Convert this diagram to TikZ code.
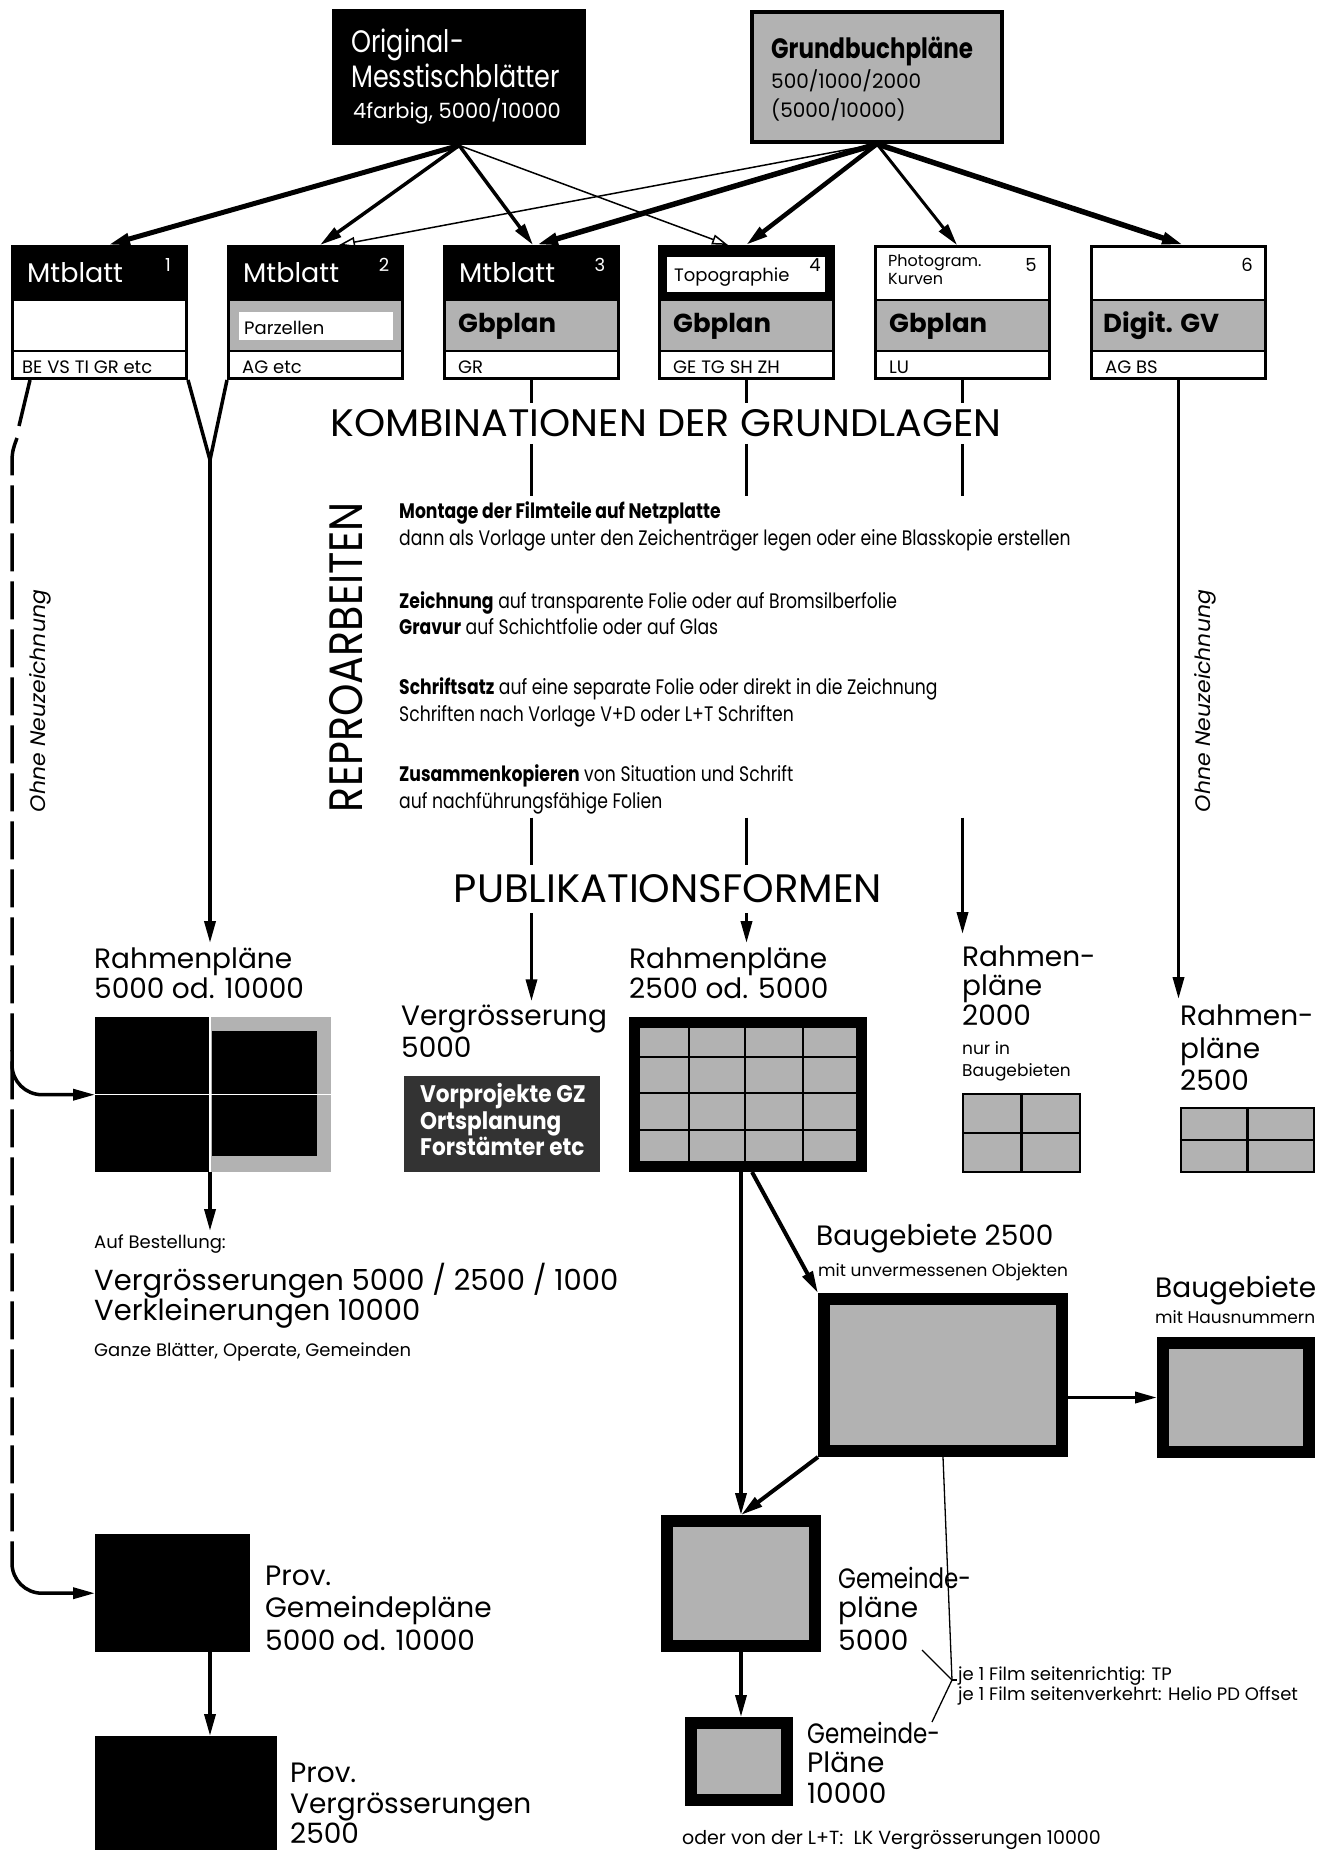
\documentclass[tikz,border=0pt]{standalone}
\usepackage{fontspec}
\usepackage{graphicx}
\setmainfont{Poppins}
\newfontfamily\labfont{Poppins}[FakeStretch=0.9]
\newfontfamily\condfont{Poppins}[FakeStretch=0.82]
\usetikzlibrary{arrows.meta,calc,positioning}
\colorlet{dotgray}{black!30}
\colorlet{darkdot}{black!80}

\begin{document}
\begin{tikzpicture}[
    x=1pt, y=-1pt,
    >={Triangle[length=22pt,width=11pt]},
    every node/.style={inner sep=0pt},
    lbl/.style={anchor=base west, font=\fontsize{28}{30}\selectfont},
    condlbl/.style={anchor=base west, font=\condfont\fontsize{28}{30}\selectfont},
    notetxt/.style={anchor=base west, font=\fontsize{17}{20}\selectfont},
    reptxt/.style={anchor=base west, font=\condfont\fontsize{21}{24}\selectfont},
    codetxt/.style={anchor=base west, font=\fontsize{18}{20}\selectfont},
    numtxt/.style={anchor=base, font=\fontsize{18}{20}\selectfont},
    boxtitle/.style={anchor=base west, font=\fontsize{27}{30}\selectfont},
    boxbold/.style={anchor=base west, font=\bfseries\fontsize{26}{30}\selectfont},
    headtxt/.style={anchor=base west, font=\condfont\fontsize{31}{34}\selectfont},
    rowbox/.style={draw, line width=3pt, minimum width=174pt, minimum height=132pt, anchor=north west},
    plate/.style={draw, fill=dotgray, line width=12pt},
    gridbox/.style={draw, fill=dotgray, line width=2.5pt},
    conn/.style={->, line width=3.5pt},
    openarr/.style={-{Triangle[open,length=16pt,width=10pt]}, line width=1.5pt},
    dashline/.style={line width=3.5pt, dash pattern=on 38pt off 10pt},
]
\useasboundingbox (0,0) rectangle (1325,1850);

\node[fill=black, minimum width=254pt, minimum height=136pt, anchor=north west] (orig) at (332,9) {};
\node[headtxt, white] (orig1) at (351,52) {Original-};
\node[headtxt, white] (orig2) at (351,87) {Messtischblätter};
\node[anchor=base west, white, font=\fontsize{21}{24}\selectfont] (orig3) at (353,118) {4farbig, 5000/10000};

\node[draw, fill=dotgray, line width=4pt, minimum width=250pt, minimum height=130pt, anchor=north west] (gb) at (750,10) {};
\node[headtxt, font=\condfont\bfseries\fontsize{28}{32}\selectfont] (gb1) at (771,58) {Grundbuchpläne};
\node[anchor=base west, font=\fontsize{20}{24}\selectfont] (gb2) at (771,88) {500/1000/2000};
\node[anchor=base west, font=\fontsize{20}{24}\selectfont] (gb3) at (771,117) {(5000/10000)};

\foreach \i/\x/\tf/\mf in {1/11/black/white, 2/227/black/dotgray, 3/443/black/dotgray, 4/658/black/dotgray, 5/874/white/dotgray, 6/1090/white/dotgray}{
  \fill[\tf] (\x,245) rectangle ++(177,55);
  \fill[\mf] (\x,300) rectangle ++(177,51);
  \draw[line width=2.5pt] (\x,300) -- ++(177,0) (\x,351) -- ++(177,0);
  \node[rowbox] (b\i) at (\x,245) {};
}
\fill[white] (239,312) rectangle (393,340);
\fill[white] (667,257) rectangle (825,292);
\foreach \i in {1,2,3}
  \node[boxtitle, white] (mt\i) at ($(b\i.north west)+(16,37)$) {Mtblatt};
\foreach \i/\nc in {1/white, 2/white, 3/white, 4/black, 5/black, 6/black}
  \node[numtxt, \nc] (n\i) at ($(b\i.north west)+(157,26)$) {\i};
\node[notetxt, font=\fontsize{18}{20}\selectfont] (parz) at (244,334) {Parzellen};
\node[notetxt, font=\fontsize{18}{20}\selectfont] (topo) at (674,281) {Topographie};
\node[notetxt, font=\fontsize{16}{18}\selectfont] (photo) at (888,266) {Photogram.};
\node[notetxt, font=\fontsize{16}{18}\selectfont] (kurv) at (888,284) {Kurven};
\foreach \i in {3,4,5}
  \node[boxbold] (gbp\i) at ($(b\i.north west)+(15,87)$) {Gbplan};
\node[boxbold] (digit) at ($(b6.north west)+(13,87)$) {Digit. GV};
\node[codetxt] (c1) at ($(b1.north west)+(11,128)$) {BE VS TI GR etc};
\node[codetxt] (c2) at ($(b2.north west)+(15,128)$) {AG etc};
\node[codetxt] (c3) at ($(b3.north west)+(15,128)$) {GR};
\node[codetxt] (c4) at ($(b4.north west)+(15,128)$) {GE TG SH ZH};
\node[codetxt] (c5) at ($(b5.north west)+(15,128)$) {LU};
\node[codetxt] (c6) at ($(b6.north west)+(15,128)$) {AG BS};

\draw[conn, line width=5pt] (orig.south) -- ($(b1.north west)+(97,0)$);
\draw[conn] (orig.south) -- ($(b2.north west)+(93,0)$);
\draw[conn] (orig.south) -- ($(b3.north west)+(90,0)$);
\draw[openarr] (orig.south) -- ($(b4.north west)+(70,0)$);
\draw[openarr] (gb.south) -- ($(b2.north west)+(112,0)$);
\draw[conn, line width=5.5pt] (gb.south) -- ($(b3.north west)+(93,0)$);
\draw[conn, line width=4.5pt] (gb.south) -- ($(b4.north west)+(88,0)$);
\draw[conn, line width=3pt] (gb.south) -- ($(b5.north west)+(83,0)$);
\draw[conn, line width=5.5pt] (gb.south) -- ($(b6.north west)+(94,0)$);

\node (kombi) at (666,423) {\resizebox{671pt}{27pt}{KOMBINATIONEN DER GRUNDLAGEN}};
\node[rotate=90] (repro) at (346,657) {\resizebox{310pt}{33pt}{REPROARBEITEN}};
\node (publi) at (668,889) {\resizebox{428pt}{28pt}{PUBLIKATIONSFORMEN}};
\node[rotate=90] (ohne1) at (40,701) {\resizebox{222pt}{16pt}{\itshape Ohne Neuzeichnung}};
\node[rotate=90] (ohne2) at (1205,701) {\resizebox{222pt}{16pt}{\itshape Ohne Neuzeichnung}};

\foreach \y/\t [count=\n] in {518/{\textbf{Montage der Filmteile auf Netzplatte}},
    545/{dann als Vorlage unter den Zeichenträger legen oder eine Blasskopie erstellen},
    608/{\textbf{Zeichnung} auf transparente Folie oder auf Bromsilberfolie},
    634/{\textbf{Gravur} auf Schichtfolie oder auf Glas},
    694/{\textbf{Schriftsatz} auf eine separate Folie oder direkt in die Zeichnung},
    721/{Schriften nach Vorlage V+D oder L+T Schriften},
    781/{\textbf{Zusammenkopieren} von Situation und Schrift},
    808/{auf nachführungsfähige Folien}}
  \node[reptxt] (rep\n) at (399,\y) {\t};

\foreach \i in {3,4,5}{
  \draw[line width=3pt] (b\i.south) -- ++(0,23);
  \draw[line width=3pt] (b\i.south |- kombi.south) ++(0,7) -- ++(0,52);
}
\foreach \i in {3,4}
  \draw[line width=3pt] (b\i.south |- publi.north) ++(0,-57) -- ++(0,47);

\node[lbl] (rpl1) at (94,968) {Rahmenpläne};
\node[lbl] (rpl2) at (94,998) {5000 od. 10000};
\node[lbl] (vgl1) at (401,1025) {Vergrösserung};
\node[lbl] (vgl2) at (401,1057) {5000};
\node[lbl] (rml1) at (629,968) {Rahmenpläne};
\node[lbl] (rml2) at (629,998) {2500 od. 5000};
\node[lbl] (r20l1) at (962,966) {Rahmen-};
\node[lbl] (r20l2) at (962,995) {pläne};
\node[lbl] (r20l3) at (962,1025) {2000};
\node[notetxt] (r20n1) at (962,1054) {nur in};
\node[notetxt] (r20n2) at (962,1076) {Baugebieten};
\node[lbl] (r25l1) at (1180,1025) {Rahmen-};
\node[lbl] (r25l2) at (1180,1058) {pläne};
\node[lbl] (r25l3) at (1180,1090) {2500};

\coordinate (vtip) at (210,460);
\draw[line width=3.5pt] (b1.south east) -- (vtip) -- (b2.south west);
\draw[conn, shorten >=4pt] (vtip) -- (vtip |- rpl1.north);
\draw[conn, shorten >=3pt] (b3.south |- publi.south) ++(0,10) -- (b3.south |- vgl1.north);
\draw[conn, shorten >=4pt] (b4.south |- publi.south) ++(0,10) -- (b4.south |- rml1.north);
\draw[conn, shorten >=11pt] (b5.south |- publi.north) ++(0,-57) -- (b5.south |- r20l1.north);
\draw[conn, shorten >=5pt] (b6.south) -- (b6.south |- r25l1.north);

\node[fill=black, minimum width=236pt, minimum height=155pt, anchor=north west] (rp5) at (95,1017) {};
\fill[dotgray] (210,1017) rectangle (331,1172);
\fill[black] (212,1031) rectangle (317,1156);
\draw[white, line width=1.5pt] (rp5.west) -- (rp5.east);
\draw[white, line width=1.5pt] (210,1017) -- (210,1172);

\node[fill=darkdot, minimum width=196pt, minimum height=96pt, anchor=north west] (vbox) at (404,1076) {};
\node[boxbold, white, font=\labfont\bfseries\fontsize{24}{26}\selectfont] (vb1) at (420,1102) {Vorprojekte GZ};
\node[boxbold, white, font=\labfont\bfseries\fontsize{24}{26}\selectfont] (vb2) at (420,1129) {Ortsplanung};
\node[boxbold, white, font=\labfont\bfseries\fontsize{24}{26}\selectfont] (vb3) at (420,1155) {Forstämter etc};

\node[plate, line width=11pt, minimum width=227pt, minimum height=144pt] (rp25) at (748,1094.5) {};
\foreach \gx in {689,745,803}
  \draw[line width=2.5pt] (\gx,1028) -- (\gx,1161);
\foreach \gy in {1057,1093,1130}
  \draw[line width=2.5pt] (640,\gy) -- (856,\gy);

\node[gridbox, minimum width=117pt, minimum height=78pt] (rp20) at (1021.5,1133) {};
\draw[line width=2.5pt] (rp20.north) -- (rp20.south) (rp20.west) -- (rp20.east);
\node[gridbox, minimum width=133pt, minimum height=64pt] (rp25r) at (1247.5,1140) {};
\draw[line width=2.5pt] (rp25r.north) -- (rp25r.south) (rp25r.west) -- (rp25r.east);

\node[notetxt, font=\fontsize{18}{20}\selectfont] (auf) at (94,1248) {Auf Bestellung:};
\node[lbl, font=\fontsize{29}{30}\selectfont] (best1) at (94,1290) {Vergrösserungen 5000 / 2500 / 1000};
\node[lbl, font=\fontsize{29}{30}\selectfont] (best2) at (94,1320) {Verkleinerungen 10000};
\node[notetxt, font=\fontsize{18}{20}\selectfont] (best3) at (94,1356) {Ganze Blätter, Operate, Gemeinden};
\draw[conn, shorten >=3pt] (rp5.south -| vtip) -- (auf.north -| vtip);

\node[plate, minimum width=238pt, minimum height=152pt] (bg) at (943,1375) {};
\node[lbl] (bgl1) at (816,1245) {Baugebiete 2500};
\node[notetxt] (bgl2) at (818,1276) {mit unvermessenen Objekten};
\node[plate, minimum width=146pt, minimum height=109pt] (bgh) at (1236,1397.5) {};
\node[lbl] (bghl1) at (1155,1297) {Baugebiete};
\node[notetxt] (bghl2) at (1155,1323) {mit Hausnummern};

\node[plate, minimum width=148pt, minimum height=125pt] (gem5) at (741,1583.5) {};
\node[condlbl] (g5l1) at (838,1588) {Gemeinde-};
\node[lbl] (g5l2) at (838,1617) {pläne};
\node[lbl] (g5l3) at (838,1650) {5000};
\node[plate, minimum width=96pt, minimum height=77pt] (gem10) at (739,1761.5) {};
\node[condlbl] (g10l1) at (807,1743) {Gemeinde-};
\node[lbl] (g10l2) at (807,1772) {Pläne};
\node[lbl] (g10l3) at (807,1803) {10000};

\draw[conn] (rp25.south -| gem5.north) -- (gem5.north);
\draw[conn, line width=4pt] ($(rp25.south)+(4,0)$) -- (bg.north west);
\draw[conn, line width=4pt] (bg.south west) -- (gem5.north);
\draw[conn] (bg.east |- bgh.west) -- (bgh.west);
\draw[conn] (gem5.south) -- (gem5.south |- gem10.north);

\coordinate (brk) at (952,1680);
\coordinate (g5end) at (922,1650);
\coordinate (g10end) at (932,1722);
\draw[line width=1.3pt] (bg.south) -- (brk);
\draw[line width=1.3pt] (g5end) -- (brk) -- (g10end);
\draw[line width=1.3pt] (brk) -- ++(5,0);
\node[notetxt, font=\fontsize{18}{20}\selectfont] (film1) at (958,1680) {je 1 Film seitenrichtig: TP};
\node[notetxt, font=\fontsize{18}{20}\selectfont] (film2) at (958,1700) {je 1 Film seitenverkehrt: Helio PD Offset};
\node[notetxt, font=\fontsize{19}{20}\selectfont] (lt) at (682,1844) {oder von der L+T:\ \ LK Vergrösserungen 10000};

\node[fill=black, minimum width=155pt, minimum height=118pt, anchor=north west] (provgem) at (95,1534) {};
\node[lbl] (pgl1) at (265,1585) {Prov.};
\node[lbl] (pgl2) at (265,1617) {Gemeindepläne};
\node[lbl] (pgl3) at (265,1650) {5000 od. 10000};
\node[fill=black, minimum width=182pt, minimum height=114pt, anchor=north west] (provverg) at (95,1736) {};
\node[lbl] (pvl1) at (290,1782) {Prov.};
\node[lbl] (pvl2) at (290,1813) {Vergrösserungen};
\node[lbl] (pvl3) at (290,1843) {2500};
\draw[conn] (provgem.south -| vtip) -- (provverg.north -| vtip);

\coordinate (dtop) at (19,426);
\coordinate (dbot) at (12,1545);
\draw[line width=3.5pt] ($(b1.south west)+(19,0)$) -- (dtop);
\draw[dashline] (17,438) .. controls (12,452) .. (12,470) -- (dbot);
\draw[conn, rounded corners=30pt] (dbot) |- (provgem.west);
\draw[conn, rounded corners=30pt] (12,1050) |- (rp5.west);
\end{tikzpicture}
\end{document}
